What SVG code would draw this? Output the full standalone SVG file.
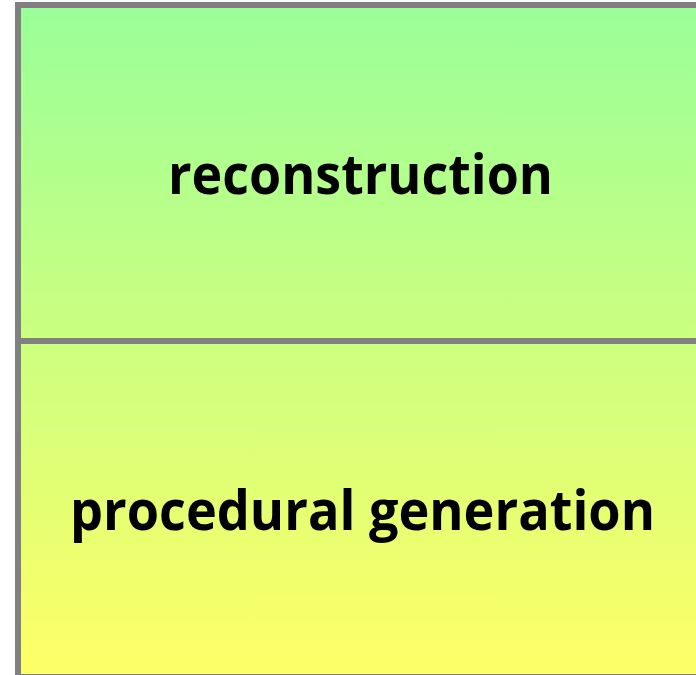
<svg xmlns="http://www.w3.org/2000/svg" width="696" height="675" viewBox="0 0 696 675">
  <style>
    .box { stroke: #808080; stroke-width: 6; }
    .label { font-family: "Open Sans", "Liberation Sans", sans-serif; font-weight: bold; font-size: 56px; fill: #000000; }
  </style>
  <defs>
    <linearGradient id="fill" gradientUnits="userSpaceOnUse" x1="0" y1="5" x2="0" y2="677">
      <stop offset="0" stop-color="#99FF99"/>
      <stop offset="1" stop-color="#FFFF66"/>
    </linearGradient>
  </defs>
  <rect width="696" height="675" fill="#FFFFFF"/>
  <g id="reconstruction">
    <rect class="box" x="18" y="5" width="700" height="336" fill="url(#fill)"/>
    <text class="label" x="168" y="194" textLength="385" lengthAdjust="spacingAndGlyphs">reconstruction</text>
  </g>
  <g id="procedural-generation">
    <rect class="box" x="18" y="341" width="700" height="336" fill="url(#fill)"/>
    <text class="label" x="70" y="530" textLength="585" lengthAdjust="spacingAndGlyphs">procedural generation</text>
  </g>
  <g id="connectors"/>
</svg>
